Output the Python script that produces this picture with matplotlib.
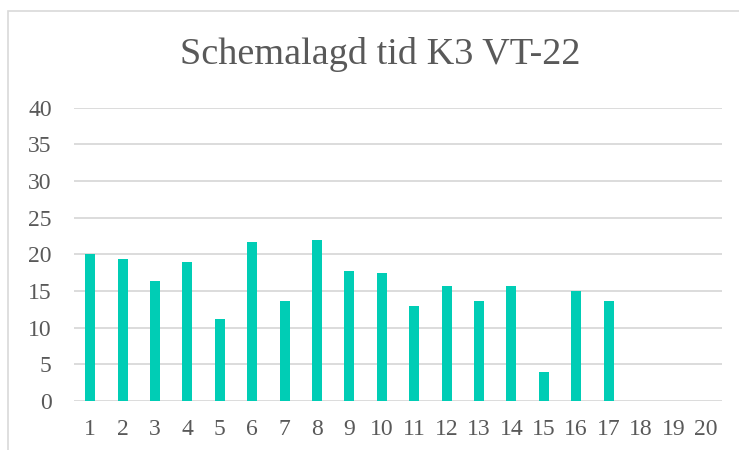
import matplotlib
matplotlib.use('Agg')
import matplotlib.pyplot as plt
from matplotlib.patches import Rectangle

weeks = list(range(1, 21))
hours = [20, 19.4, 16.4, 19, 11.25, 21.7, 13.7, 22, 17.7, 17.4,
         13, 15.7, 13.7, 15.7, 4, 15, 13.7, 0, 0, 0]
yticks = [0, 5, 10, 15, 20, 25, 30, 35, 40]

W, H = 739, 450
fig = plt.figure(figsize=(W/100, H/100), dpi=100)
plt.rcParams['font.family'] = ['Liberation Serif', 'DejaVu Serif']
txt = '#595959'

# outer chart border (runs off the bottom/right like the screenshot)
fig.patches.append(Rectangle((8/W, -0.1), 1.2, 1.1 - 11/H, transform=fig.transFigure,
                             fill=False, ec='#d9d9d9', lw=1.2))

ax = fig.add_axes([74/W, 1-401/H, (722-74)/W, (401-107.7)/H])
ax.bar(weeks, hours, width=0.31, color='#00CDB5', zorder=3)
ax.set_xlim(0.5, 20.5)
ax.set_ylim(0, 40)
ax.set_yticks(yticks)
ax.set_xticks(weeks)
ax.grid(axis='y', color='#d9d9d9', lw=1.3, zorder=0)
for s in ax.spines.values():
    s.set_visible(False)
ax.tick_params(length=0, labelsize=17, colors=txt)
ax.tick_params(axis='x', pad=13)
ax.tick_params(axis='y', pad=16)
fig.text(380/W, 1-55/H, 'Schemalagd tid K3 VT-22', ha='center', va='center',
         fontsize=27.5, color=txt)
fig.savefig('out.png', dpi=100)
